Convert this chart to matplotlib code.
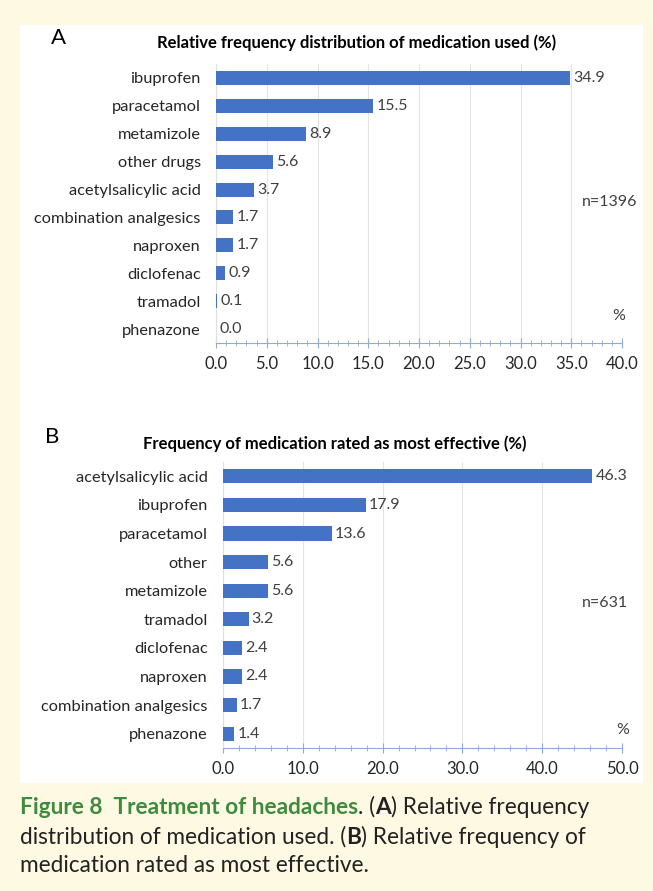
#Treatment of headaches - two horizontal bar charts with caption

import matplotlib.pyplot as plt
import numpy as np
from matplotlib.ticker import MultipleLocator

plt.rcParams['font.family'] = ['Lato', 'DejaVu Sans']

used_labels = ["ibuprofen", "paracetamol", "metamizole", "other drugs", "acetylsalicylic acid",
               "combination analgesics", "naproxen", "diclofenac", "tramadol", "phenazone"]
used_values = [34.9, 15.5, 8.9, 5.6, 3.7, 1.7, 1.7, 0.9, 0.1, 0.0]

eff_labels = ["acetylsalicylic acid", "ibuprofen", "paracetamol", "other", "metamizole",
              "tramadol", "diclofenac", "naproxen", "combination analgesics", "phenazone"]
eff_values = [46.3, 17.9, 13.6, 5.6, 5.6, 3.2, 2.4, 2.4, 1.7, 1.4]

W, H = 653, 891
BAR = "#4472C4"
AXIS = "#8FAADC"
CREAM = "#FEF9E3"

fig = plt.figure(figsize=(W / 100, H / 100), dpi=100, facecolor=CREAM)

# white panel behind the charts
fig.patches.append(plt.Rectangle((20 / W, 1 - 783 / H), 623 / W, 758 / H,
                                 transform=fig.transFigure, facecolor="white",
                                 edgecolor="none", zorder=-5))


def px_axes(left, right, top, bottom):
    return fig.add_axes([left / W, 1 - bottom / H, (right - left) / W, (bottom - top) / H])


def bar_panel(ax, labels, values, xmax, major, minor):
    y = np.arange(len(labels))
    ax.barh(y, values, height=0.5, color=BAR, zorder=3)
    for yi, v in zip(y, values):
        ax.text(v + xmax * 0.008, yi, f"{v:.1f}", va="center", ha="left",
                fontsize=11.5, color="#404040")
    ax.set_ylim(len(labels) - 0.5, -0.5)
    ax.set_xlim(0, xmax)
    ax.set_yticks(y)
    ax.set_yticklabels(labels, fontsize=11.8, color="#262626")
    ax.tick_params(axis="y", length=0, pad=11)
    ax.xaxis.set_major_locator(MultipleLocator(major))
    ax.xaxis.set_minor_locator(MultipleLocator(minor))
    ax.set_xticklabels([f"{t:.1f}" for t in ax.get_xticks()], fontsize=12, color="#262626")
    ax.tick_params(axis="x", which="major", direction="inout", length=7, color=AXIS, pad=6)
    ax.tick_params(axis="x", which="minor", direction="inout", length=5, color=AXIS)
    ax.grid(axis="x", which="major", color="#E4E4E4", linewidth=0.8, zorder=0)
    for s in ["top", "right"]:
        ax.spines[s].set_visible(False)
    ax.spines["left"].set_color("#E0E0E0")
    ax.spines["bottom"].set_color(AXIS)
    ax.set_facecolor("none")


# ----------Panel A----------
axA = px_axes(216, 622, 64, 343)
bar_panel(axA, used_labels, used_values, 40, 5, 1)
fig.text(59 / W, 1 - 38 / H, "A", fontsize=16, va="center", ha="center")
fig.text(357 / W, 1 - 43 / H, "Relative frequency distribution of medication used (%)",
         fontsize=12, fontweight="bold", va="center", ha="center")
fig.text(610 / W, 1 - 202 / H, "n=1396", fontsize=11.5, va="center", ha="center", color="#404040")
fig.text(619 / W, 1 - 316 / H, "%", fontsize=11.5, va="center", ha="center", color="#404040")

# ----------Panel B----------
axB = px_axes(223, 622, 462, 748)
bar_panel(axB, eff_labels, eff_values, 50, 10, 2)
fig.text(52 / W, 1 - 437 / H, "B", fontsize=16, va="center", ha="center")
fig.text(335 / W, 1 - 444 / H, "Frequency of medication rated as most effective (%)",
         fontsize=12, fontweight="bold", va="center", ha="center")
fig.text(605 / W, 1 - 603 / H, "n=631", fontsize=11.5, va="center", ha="center", color="#404040")
fig.text(623 / W, 1 - 730 / H, "%", fontsize=11.5, va="center", ha="center", color="#404040")

# ----------Caption----------
GREEN = "#3E8B3E"
renderer = fig.canvas.get_renderer()


def caption_line(y, parts):
    x = 20 / W
    for txt, weight, color in parts:
        t = fig.text(x, 1 - y / H, txt, fontsize=16.3, fontweight=weight, color=color,
                     va="center", ha="left")
        bb = t.get_window_extent(renderer)
        x += bb.width / W


caption_line(807, [("Figure 8  Treatment of headaches", "bold", GREEN), (". (", "normal", "#222222"),
                   ("A", "bold", "#222222"), (") Relative frequency", "normal", "#222222")])
caption_line(837, [("distribution of medication used. (", "normal", "#222222"), ("B", "bold", "#222222"),
                   (") Relative frequency of", "normal", "#222222")])
caption_line(866, [("medication rated as most effective.", "normal", "#222222")])

plt.savefig("out.png", dpi=100, facecolor=CREAM)
